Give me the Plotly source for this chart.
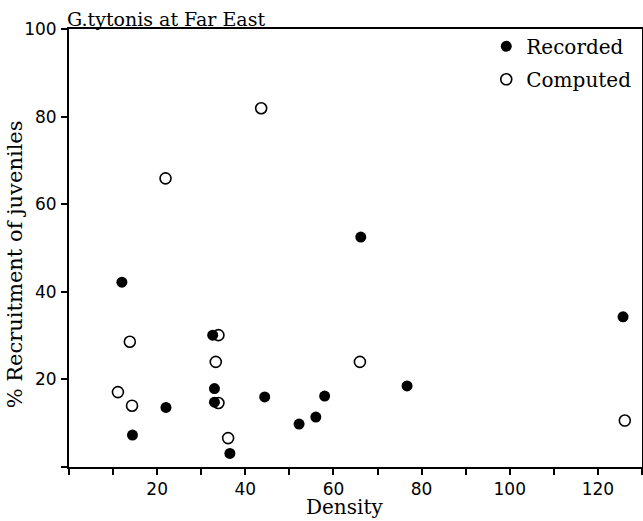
import plotly.graph_objects as go

# Data
recorded_density = [12.0, 14.4, 22.0, 32.6, 33.0, 33.0, 36.5, 44.4, 52.2, 56.0, 58.0, 66.2, 76.7, 125.7]
recorded_recruit = [42.2, 7.3, 13.6, 30.1, 17.9, 14.8, 3.1, 16.0, 9.8, 11.4, 16.2, 52.5, 18.5, 34.3]

computed_density = [21.9, 43.6, 13.8, 11.1, 14.3, 33.9, 33.3, 33.9, 36.1, 66.0, 126.1]
computed_recruit = [65.9, 81.9, 28.6, 17.1, 14.0, 30.1, 24.0, 14.6, 6.6, 24.0, 10.6]

x_tick_vals = [0, 10, 20, 30, 40, 50, 60, 70, 80, 90, 100, 110, 120, 130]
x_tick_text = ["", "", "20", "", "40", "", "60", "", "80", "", "100", "", "120", ""]
y_tick_vals = [0, 20, 40, 60, 80, 100]
y_tick_text = ["", "20", "40", "60", "80", "100"]

TITLE = "G.tytonis at Far East"
X_TITLE = "Density"
Y_TITLE = "% Recruitment of juveniles"

SERIF = "DejaVu Serif"
SANS = "DejaVu Sans"

fig = go.Figure()
fig.add_trace(go.Scatter(
    x=recorded_density, y=recorded_recruit, mode="markers", name="Recorded",
    legendgroup="a",
    marker=dict(symbol="circle", size=11, color="black"),
))
fig.add_trace(go.Scatter(
    x=computed_density, y=computed_recruit, mode="markers", name="Computed",
    legendgroup="b",
    marker=dict(symbol="circle-open", size=11, color="black", line=dict(width=1.6, color="black")),
))

axis_common = dict(
    showline=True, linecolor="black", linewidth=2, mirror=True,
    showgrid=False, zeroline=False, automargin=False,
    ticks="outside", ticklen=6, tickwidth=1.5, tickcolor="black",
    tickfont=dict(family=SANS, size=17, color="black"),
)

fig.update_layout(
    width=643, height=521,
    margin=dict(l=69, r=1, t=29, b=54),
    paper_bgcolor="white", plot_bgcolor="white",
    showlegend=True,
    legend=dict(
        x=0.99, y=1.005, xanchor="right", yanchor="top",
        bgcolor="rgba(0,0,0,0)", borderwidth=0,
        font=dict(family=SERIF, size=20, color="black"),
        tracegroupgap=4, itemwidth=30,
    ),
    title=dict(
        text=TITLE,
        x=0, xref="paper", xanchor="left",
        y=1, yref="paper", yanchor="bottom",
        pad=dict(b=3, l=-2),
        automargin=False,
        font=dict(family=SERIF, size=19, color="black"),
    ),
    xaxis=dict(
        range=[0, 130], tickvals=x_tick_vals, ticktext=x_tick_text,
        ticklabelstandoff=0,
        **axis_common,
    ),
    yaxis=dict(
        range=[0, 100], tickvals=y_tick_vals, ticktext=y_tick_text,
        ticklabelstandoff=1,
        **axis_common,
    ),
    annotations=[
        dict(text=X_TITLE, xref="paper", yref="paper", x=0.48, y=-0.121,
             xanchor="center", yanchor="bottom", showarrow=False, borderpad=0,
             font=dict(family=SERIF, size=20, color="black")),
        dict(text=Y_TITLE, xref="paper", yref="paper", x=-0.094, y=0.463,
             xanchor="center", yanchor="middle", textangle=-90, showarrow=False,
             font=dict(family=SERIF, size=21, color="black")),
    ],
)

fig.write_html(
    "out.html",
    config={"displayModeBar": False},
    post_script="document.body.style.margin='0';document.body.style.padding='0';",
)
